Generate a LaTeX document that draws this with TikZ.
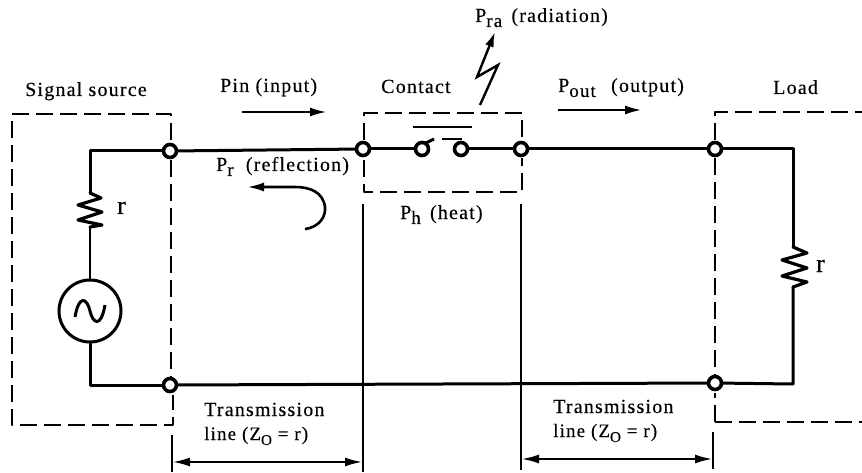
\documentclass[tikz,border=0pt]{standalone}
\usepackage{fontspec}
\setmainfont{Liberation Serif}[LetterSpace=6,FakeBold=0.25]
\usetikzlibrary{arrows.meta}
\tikzset{
  x=1pt,y=-1pt,
  wire/.style={line width=3pt,line cap=round,line join=round},
  thin wire/.style={line width=2pt},
  box/.style={line width=2.3pt,dash pattern=on 17pt off 7pt,line join=round},
  dim/.style={line width=2.6pt},
  term/.style={circle,draw,line width=3.6pt,fill=white,minimum size=13pt,inner sep=0pt},
  lab/.style={anchor=base west,inner sep=0pt,font=\fontsize{20}{22}\selectfont},
  flow/.style={line width=2.6pt,-{Latex[length=17pt,width=9pt]}},
  both/.style={line width=2.6pt,{Latex[length=18pt,width=9pt]}-{Latex[length=18pt,width=9pt]}}
}
\newcommand{\lowsub}[1]{\raisebox{-5pt}{\fontsize{19}{20}\selectfont #1}}
\newcommand{\zsub}{\raisebox{-5pt}{\fontsize{15}{16}\selectfont O}}
\begin{document}
\begin{tikzpicture}
\useasboundingbox (0,0) rectangle (862,473);
% coordinates
\coordinate (tl) at (90,151); \coordinate (bl) at (90,385);
\coordinate (tr) at (793,149); \coordinate (br) at (793,384);
\coordinate (r1a) at (90,193); \coordinate (r1b) at (90,227);
\coordinate (r2a) at (793,247); \coordinate (r2b) at (793,287);
% dashed boxes
\draw[box] (171,140) -- (171,114) -- (12,114) -- (12,425) -- (173,425) -- (173,395);
\draw[box] (171,160) -- (171,395);
\draw[box] (715,140) -- (715,112) -- (862,112);
\draw[box] (715,158) -- (715,375);
\draw[box] (715,422) -- (715,393);
\draw[box] (715,422) -- (862,422);
\draw[box] (364,140) -- (364,113) -- (522,113) -- (522,140);
\draw[box] (364,160) -- (364,192) -- (522,192) -- (522,158);
% dimension verticals
\draw[dim] (172,435) -- (172,472);
\draw[dim] (363,204) -- (363,472);
\draw[dim] (521,204) -- (521,470);
\draw[dim] (713,432) -- (713,469);
% terminals
\node[term] (t1) at (170,151) {};
\node[term] (t2) at (363,149) {};
\node[term] (t3) at (521,149) {};
\node[term] (t4) at (715,149) {};
\node[term] (t5) at (170,385) {};
\node[term] (t6) at (715,383) {};
\node[circle,draw,line width=3.6pt,minimum size=13pt,inner sep=0pt] (c1) at (422,149) {};
\node[term] (c2) at (461,149) {};
% source
\node[circle,draw,line width=3pt,minimum size=62pt,inner sep=0pt] (src) at (90,311) {};
\draw[line width=3pt] (75,317) .. controls (79,294) and (87,298) .. (90,311) .. controls (93,324) and (101,328) .. (105,305);
% wires
\draw[wire] (r1a) -- (tl) -- (t1);
\draw[wire] (t1) -- (t2);
\draw[wire] (t2) -- (c1);
\draw[wire] (c2) -- (t3);
\draw[wire] (t3) -- (t4);
\draw[wire] (t4) -- (tr) -- (r2a);
\draw[wire] (r2b) -- (br) -- (t6);
\draw[wire] (t5) -- (t6);
\draw[wire] (t5) -- (bl) -- (src);
\draw[thin wire] (r1b) -- (src);
% resistors
\draw[wire,line width=3.2pt] (r1a) -- (101,198) -- (78,205) -- (102,212) -- (78,220) -- (102,225) -- (r1b);
\draw[wire,line width=3.2pt] (r2a) -- (807,253) -- (782,260) -- (807,268) -- (782,276) -- (807,282) -- (r2b);
% contact details
\draw[line width=2.8pt] (413,127) -- (472,127);
\draw[line width=2.4pt] (442,139) -- (462,139);
\draw[line width=3pt] (424,144) -- (434,139);
% lightning
\coordinate (la) at (480,105); \coordinate (lb) at (498,65); \coordinate (lc) at (477,77); \coordinate (ld) at (495,32);
\draw[line width=2.4pt,line join=miter,-{Latex[length=15pt,width=9pt]}] (la) -- (lb) -- (lc) -- (ld);
% flow arrows
\coordinate (pa) at (242,112); \coordinate (pb) at (327,112);
\coordinate (qa) at (558,110); \coordinate (qb) at (642,110);
\draw[flow] (pa) -- (pb);
\draw[flow] (qa) -- (qb);
\coordinate (ra) at (305,229); \coordinate (rb) at (247,187);
\draw[flow] (ra) .. controls (320,227) and (326,216) .. (325,207) .. controls (323,192) and (310,187) .. (295,187) -- (rb);
% dimension arrows
\draw[both] (172,462) -- (363,462);
\draw[both] (521,459) -- (713,459);
% labels
\node[lab] (lsrc) at (25,96) {Signal source};
\node[lab] (lpin) at (220,92) {Pin (input)};
\node[lab] (lcon) at (381,93) {Contact};
\node[lab] (lout) at (558,92) {P\lowsub{out}\hspace{9pt} (output)};
\node[lab] (lload) at (773,94) {Load};
\node[lab] (lra) at (475,22) {P\lowsub{ra}\hspace{3pt} (radiation)};
\node[lab] (lrefl) at (216,171) {P\lowsub{r}\hspace{6pt} (reflection)};
\node[lab] (lheat) at (400,219) {P\lowsub{h}\hspace{3pt} (heat)};
\node[lab,font=\fontsize{26}{28}\selectfont] (lr1) at (117,214) {r};
\node[lab,font=\fontsize{26}{28}\selectfont] (lr2) at (816,272) {r};
\node[lab] (tx1) at (204,416) {Transmission};
\node[lab,font=\fontsize{19}{21}\selectfont] (tx2) at (204,440) {line (Z\zsub{} = r)};
\node[lab] (tx3) at (553,413) {Transmission};
\node[lab,font=\fontsize{19}{21}\selectfont] (tx4) at (553,437) {line (Z\zsub{} = r)};
\end{tikzpicture}
\end{document}
